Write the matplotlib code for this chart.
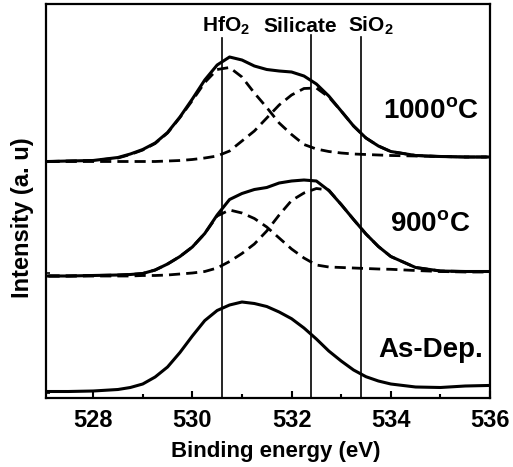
import matplotlib
matplotlib.use("Agg")
import matplotlib.pyplot as plt
from matplotlib.ticker import MultipleLocator

plt.rcParams['font.family'] = ['Liberation Sans', 'DejaVu Sans']
plt.rcParams['font.weight'] = 'bold'
plt.rcParams['mathtext.fontset'] = 'custom'
plt.rcParams['mathtext.rm'] = 'Liberation Sans:bold'
plt.rcParams['mathtext.bf'] = 'Liberation Sans:bold'

# binding energy grid (eV)
energy = [527.1, 527.5, 528.0, 528.5, 528.75, 529.0, 529.25, 529.5, 529.75,
          530.0, 530.25, 530.5, 530.75, 531.0, 531.25, 531.5, 531.75, 532.0,
          532.25, 532.5, 532.75, 533.0, 533.25, 533.5, 533.75, 534.0, 534.5,
          535.0, 535.5, 535.95]

# spectra, already stacked (arbitrary units)
t1000 = [236.5, 237, 237.5, 240.5, 244, 248.5, 255, 265.5, 281, 299, 318, 333,
         341, 338, 332, 328.5, 327, 326, 322, 314, 302, 287, 272, 260, 252,
         246.5, 242.5, 241.5, 241, 241]
t1000_hfo2 = [236.5, 237, 237.5, 240, 243.5, 248, 254.5, 265, 280.5, 297.5,
              315.5, 328.5, 330.5, 321, 305, 290.5, 275, 263.5, 253.5, 249,
              246.5, 245, 244, 243.5, 243, 242.5, 242, 241.5, 241, 241]
t1000_sil = [236.5, 236.5, 236.5, 236.5, 236.5, 236.5, 236.5, 237, 237.5,
             238.5, 240, 242, 247, 257, 267, 280, 293, 303, 309.5, 310, 301,
             287, 272, 260, 252, 246.5, 242.5, 241.5, 241, 241]

t900 = [122, 122, 122.5, 123, 123.5, 124.5, 128, 134, 141.5, 151, 164.5, 183,
        198.5, 204.5, 208.5, 210.5, 215, 217, 218, 217, 207.5, 193.5, 178.5,
        164, 151.5, 141.5, 130.5, 127, 126.5, 126.5]
t900_hfo2 = [122, 122, 122.5, 123, 123.5, 124.5, 128, 134, 141.5, 151, 164.5,
             182, 188, 185, 179.5, 171, 160, 149, 140, 133, 131, 130.5, 130,
             129.5, 129, 128.7, 127.5, 126.5, 126, 126]
t900_sil = [122, 122, 122, 122, 122, 122.5, 122.5, 123, 124, 125, 126.5, 130,
            136.5, 144.5, 154, 167, 183, 197.5, 205, 209.5, 208, 193.5, 178.5,
            164, 151.5, 141.5, 130.5, 127, 126.5, 126.5]

as_dep = [6.5, 6.5, 7, 8.5, 10.5, 14, 21, 31, 45.5, 62, 77.4, 87.5, 93, 96,
          94.5, 91.5, 86, 79.3, 70, 59, 47, 37, 28, 21.3, 17, 14, 11, 10.5,
          12, 12.5]

spectra = [t1000, t900, as_dep]
components = [(t1000_hfo2, t1000_sil), (t900_hfo2, t900_sil)]
spectrum_labels = ['1000$^{\\mathregular{o}}$C', '900$^{\\mathregular{o}}$C', 'As-Dep.']
label_y = [286, 173, 48]

peak_pos = [530.6, 532.4, 533.4]
peak_top = [360, 363, 361]
peak_names = ['HfO$_{\\mathregular{2}}$', 'Silicate', 'SiO$_{\\mathregular{2}}$']
peak_name_x = [530.68, 532.17, 533.6]

fig = plt.figure(figsize=(5.13, 4.67), dpi=100)
ax = fig.add_axes([46 / 513, 1 - 398 / 467, 444 / 513, 394 / 467])

for pos, top in zip(peak_pos, peak_top):
    ax.plot([pos, pos], [0, top], color='black', lw=1.2)

for hfo2, sil in components:
    ax.plot(energy, hfo2, color='black', lw=2.0, dashes=(4, 2.2))
    ax.plot(energy, sil, color='black', lw=2.0, dashes=(4, 2.2))

for spec in spectra:
    ax.plot(energy, spec, color='black', lw=2.2, solid_joinstyle='round')

for name, x in zip(peak_names, peak_name_x):
    ax.text(x, 372, name, ha='center', va='center', fontsize=15, fontweight='bold')

for lab, y in zip(spectrum_labels, label_y):
    ax.text(534.8, y, lab, ha='center', va='center', fontsize=20, fontweight='bold')

ax.set_xlim(527.05, 536.0)
ax.set_ylim(0, 394)
ax.xaxis.set_major_locator(MultipleLocator(2))
ax.xaxis.set_minor_locator(MultipleLocator(1))
ax.set_yticks([5, 125, 236])
ax.set_yticklabels([])
ax.tick_params(axis='x', which='major', direction='in', length=5, width=1.5,
               labelsize=17, pad=8)
ax.tick_params(axis='x', which='minor', direction='in', length=3, width=1.5)
ax.tick_params(axis='y', direction='in', length=3, width=1.2)
for sp in ax.spines.values():
    sp.set_linewidth(1.6)

ax.set_xlabel('Binding energy (eV)', fontsize=16, fontweight='bold')
ax.xaxis.set_label_coords(0.518, -0.11)
ax.set_ylabel('Intensity (a. u)', fontsize=17, fontweight='bold', va='center')
ax.yaxis.set_label_coords(-0.052, 0.457)

fig.savefig('out.png', dpi=100)
